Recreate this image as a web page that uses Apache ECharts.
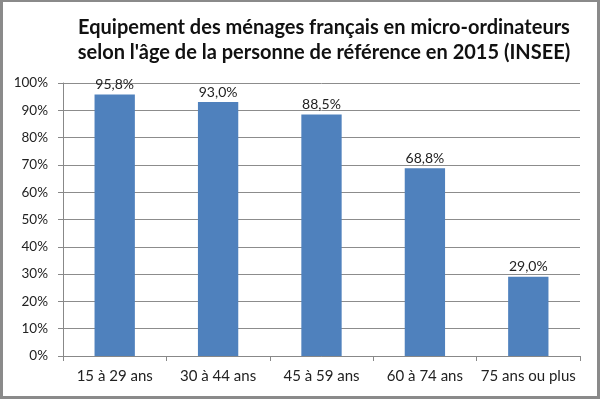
<!DOCTYPE html>
<html>
<head>
<meta charset="utf-8">
<script src="https://cdn.jsdelivr.net/npm/echarts@6/dist/echarts.min.js"></script>
<style>
  html, body { margin: 0; padding: 0; background: #fff; }
  #chart { width: 600px; height: 399px; box-sizing: border-box;
           border-style: solid; border-color: #8a8a8a; border-width: 2px 3px 3px 3px; }
</style>
</head>
<body>
<div id="chart"></div>
<script>
var categories = ['15 à 29 ans', '30 à 44 ans', '45 à 59 ans', '60 à 74 ans', '75 ans ou plus'];
var values = [95.8, 93.0, 88.5, 68.8, 29.0];
var yTicks = [0, 10, 20, 30, 40, 50, 60, 70, 80, 90, 100];

var font = 'Lato, "Open Sans", sans-serif';
var chart = echarts.init(document.getElementById('chart'));
chart.setOption({
  animation: false,
  title: {
    text: 'Equipement des ménages français en micro-ordinateurs\nselon l\'âge de la personne de référence en 2015 (INSEE)',
    left: 316, top: 8, textAlign: 'center',
    textStyle: { fontFamily: font, fontSize: 20, fontWeight: 'bold', color: '#111', lineHeight: 25 }
  },
  grid: { left: 60, right: 17, top: 81, bottom: 40 },
  xAxis: {
    type: 'category',
    data: categories,
    axisLine: { lineStyle: { color: '#888' } },
    axisTick: { show: true, length: 5, lineStyle: { color: '#888' } },
    axisLabel: { interval: 0, fontFamily: font, fontSize: 15, color: '#222', margin: 13 }
  },
  yAxis: {
    type: 'value',
    min: yTicks[0], max: yTicks[yTicks.length - 1], interval: 10,
    axisLine: { show: true, lineStyle: { color: '#888' } },
    axisTick: { show: true, length: 5, lineStyle: { color: '#888' } },
    splitLine: { lineStyle: { color: '#8c8c8c' } },
    axisLabel: { fontFamily: font, fontSize: 13.5, color: '#222', margin: 15, formatter: '{value}%' }
  },
  series: [{
    type: 'bar',
    data: values,
    barWidth: '39%',
    itemStyle: { color: '#4f81bd' },
    label: {
      show: true, position: 'top', distance: 3,
      fontFamily: font, fontSize: 14, color: '#222',
      formatter: function (p) { return p.value.toFixed(1).replace('.', ',') + '%'; }
    }
  }]
});
</script>
</body>
</html>
